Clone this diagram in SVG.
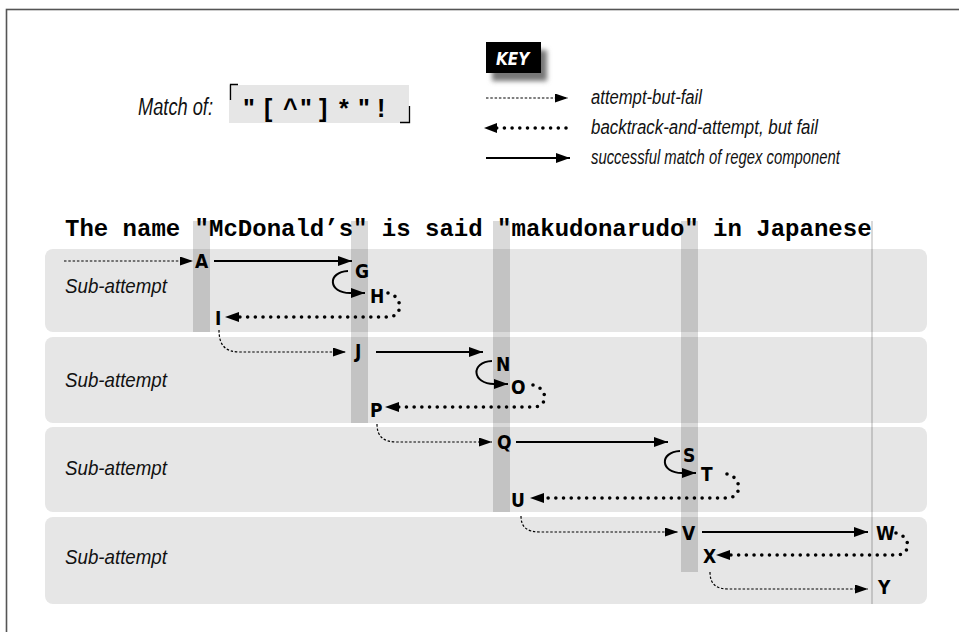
<svg xmlns="http://www.w3.org/2000/svg" width="959" height="632" viewBox="0 0 959 632">
<style>
.it{font-family:"Liberation Sans",Arial,sans-serif;font-style:italic;fill:#111}
.key{font-size:19.5px}
.sub{font-size:21px}
.lbl{font-family:"DejaVu Sans Condensed","Liberation Sans",sans-serif;font-weight:bold;font-size:19px;fill:#000}
.row{fill:#e6e6e6}
.bar{fill:#000;fill-opacity:0.15}
.solid{fill:none;stroke:#000;stroke-width:2}
.try{fill:none;stroke:#000;stroke-width:1.2;stroke-dasharray:2.5 1.8}
.back{fill:none;stroke:#000;stroke-width:3.6;stroke-linecap:round;stroke-dasharray:0 7.7}
.title{font-family:"Liberation Mono","Courier New",monospace;font-weight:bold;font-size:24px;fill:#000}
</style>
<defs>
<marker id="ah" viewBox="0 0 14 10" refX="14" refY="5" markerWidth="14" markerHeight="10" markerUnits="userSpaceOnUse" orient="auto">
<path d="M0,0 L14,5 L0,10 z" fill="#000"/>
</marker>
<marker id="ahs" viewBox="0 0 13 9" refX="13" refY="4.5" markerWidth="13" markerHeight="9" markerUnits="userSpaceOnUse" orient="auto">
<path d="M0,0 L13,4.5 L0,9 z" fill="#000"/>
</marker>
<filter id="blur" x="-30%" y="-30%" width="160%" height="160%"><feGaussianBlur stdDeviation="2.5"/></filter>
</defs>
<rect x="0" y="0" width="959" height="632" fill="#fff"/>
<rect x="6.5" y="9.5" width="1000" height="700" fill="none" stroke="#555" stroke-width="1.6"/>

<g id="regex">
<text class="it" x="138" y="115" style="font-size:23px" textLength="75" lengthAdjust="spacingAndGlyphs">Match of:</text>
<rect x="229" y="85" width="180" height="38" fill="#e6e6e6"/>
<path d="M238,84.5 L230.5,84.5 L230.5,100" fill="none" stroke="#000" stroke-width="1.3"/>
<path d="M400,122.5 L409.5,122.5 L409.5,106" fill="none" stroke="#000" stroke-width="1.3"/>
<text x="243 264 283 300 319 339 358 377" y="117" style="font-family:'Liberation Sans','DejaVu Sans',sans-serif;font-weight:bold;font-size:25px" fill="#000">"[^"]*"!</text>
</g>

<g id="key">
<rect x="492" y="50" width="55" height="31" fill="#777" filter="url(#blur)"/>
<rect x="486" y="42" width="55" height="31" fill="#000"/>
<text x="496" y="65" style="font-family:'DejaVu Sans Condensed','Liberation Sans',sans-serif;font-weight:bold;font-style:italic;font-size:17px" fill="#fff">KEY</text>
<path class="try" d="M486,98 L568,98" marker-end="url(#ahs)"/>
<text class="it key" x="591" y="104" textLength="111" lengthAdjust="spacingAndGlyphs">attempt-but-fail</text>
<path class="back" d="M566,128 L495,128"/>
<path d="M497,123 L484,128 L497,133 z" fill="#000"/>
<text class="it key" x="591" y="134" textLength="227" lengthAdjust="spacingAndGlyphs">backtrack-and-attempt, but fail</text>
<path class="solid" d="M486,158 L570,158" marker-end="url(#ah)"/>
<text class="it key" x="591" y="164" textLength="249" lengthAdjust="spacingAndGlyphs">successful match of regex component</text>
</g>

<g id="rows">
<rect class="row" x="45" y="249" width="882" height="83" rx="8"/>
<rect class="row" x="45" y="337" width="882" height="86" rx="8"/>
<rect class="row" x="45" y="427" width="882" height="85" rx="8"/>
<rect class="row" x="45" y="517" width="882" height="87" rx="8"/>
<text class="it sub" x="65" y="293" textLength="102" lengthAdjust="spacingAndGlyphs">Sub-attempt</text>
<text class="it sub" x="65" y="387" textLength="102" lengthAdjust="spacingAndGlyphs">Sub-attempt</text>
<text class="it sub" x="65" y="475" textLength="102" lengthAdjust="spacingAndGlyphs">Sub-attempt</text>
<text class="it sub" x="65" y="564" textLength="102" lengthAdjust="spacingAndGlyphs">Sub-attempt</text>
</g>

<g id="columns">
<rect class="bar" x="193" y="221" width="17" height="111"/>
<rect class="bar" x="351" y="221" width="17" height="202"/>
<rect class="bar" x="493" y="221" width="17" height="291"/>
<rect class="bar" x="681" y="221" width="17" height="351"/>
<rect class="bar" x="871" y="221" width="2" height="383" fill-opacity="0.2"/>
</g>

<g id="subject">
<text class="title" x="65" y="236">The name "McDonald’s" is said "makudonarudo" in Japanese</text>
</g>

<g id="connectors">
<path class="try" d="M64,261 L193,261" marker-end="url(#ahs)"/>
<path class="solid" d="M214,261 L352,261" marker-end="url(#ah)"/>
<path class="solid" d="M348,271 C327,272 328,293 350,293 L365,293" marker-end="url(#ah)"/>
<path class="back" d="M388,293 C403,296 404,317 388,317 L236,317"/>
<path d="M239,312 L225,317 L239,322 z" fill="#000"/>

<path class="try" d="M219,330 C219,346 226,352 240,352 L346,352" marker-end="url(#ahs)"/>
<path class="solid" d="M376,352 L483,352" marker-end="url(#ah)"/>
<path class="solid" d="M492,361 C470,362 472,384 494,384 L508,384" marker-end="url(#ah)"/>
<path class="back" d="M533,385 C548,388 549,407 533,407 L396,407"/>
<path d="M399,402 L385,407 L399,412 z" fill="#000"/>

<path class="try" d="M377,424 C377,437 384,442 397,442 L492,442" marker-end="url(#ahs)"/>
<path class="solid" d="M516,442 L668,442" marker-end="url(#ah)"/>
<path class="solid" d="M680,451 C659,452 660,473 682,473 L696,473" marker-end="url(#ah)"/>
<path class="back" d="M727,474 C742,477 743,498 727,498 L541,498"/>
<path d="M544,493 L530,498 L544,503 z" fill="#000"/>

<path class="try" d="M521,516 C521,528 528,532 540,532 L678,532" marker-end="url(#ahs)"/>
<path class="solid" d="M702,532 L868,532" marker-end="url(#ah)"/>
<path class="back" d="M896,533 C911,536 912,555 896,555 L727,555"/>
<path d="M730,550 L716,555 L730,560 z" fill="#000"/>
<path class="try" d="M710,572 C710,584 716,589 728,589 L868,589" marker-end="url(#ahs)"/>
</g>

<g id="node-A"><text class="lbl" x="195" y="268">A</text></g>
<g id="node-G"><text class="lbl" x="355" y="278">G</text></g>
<g id="node-H"><text class="lbl" x="370" y="303">H</text></g>
<g id="node-I"><text class="lbl" x="215" y="325">I</text></g>
<g id="node-J"><text class="lbl" x="355" y="358">J</text></g>
<g id="node-N"><text class="lbl" x="496" y="371">N</text></g>
<g id="node-O"><text class="lbl" x="511" y="394">O</text></g>
<g id="node-P"><text class="lbl" x="370" y="417">P</text></g>
<g id="node-Q"><text class="lbl" x="497" y="449">Q</text></g>
<g id="node-S"><text class="lbl" x="683" y="462">S</text></g>
<g id="node-T"><text class="lbl" x="701" y="481">T</text></g>
<g id="node-U"><text class="lbl" x="511" y="507">U</text></g>
<g id="node-V"><text class="lbl" x="682" y="540">V</text></g>
<g id="node-W"><text class="lbl" x="876" y="540">W</text></g>
<g id="node-X"><text class="lbl" x="703" y="563">X</text></g>
<g id="node-Y"><text class="lbl" x="878" y="594">Y</text></g>
</svg>
